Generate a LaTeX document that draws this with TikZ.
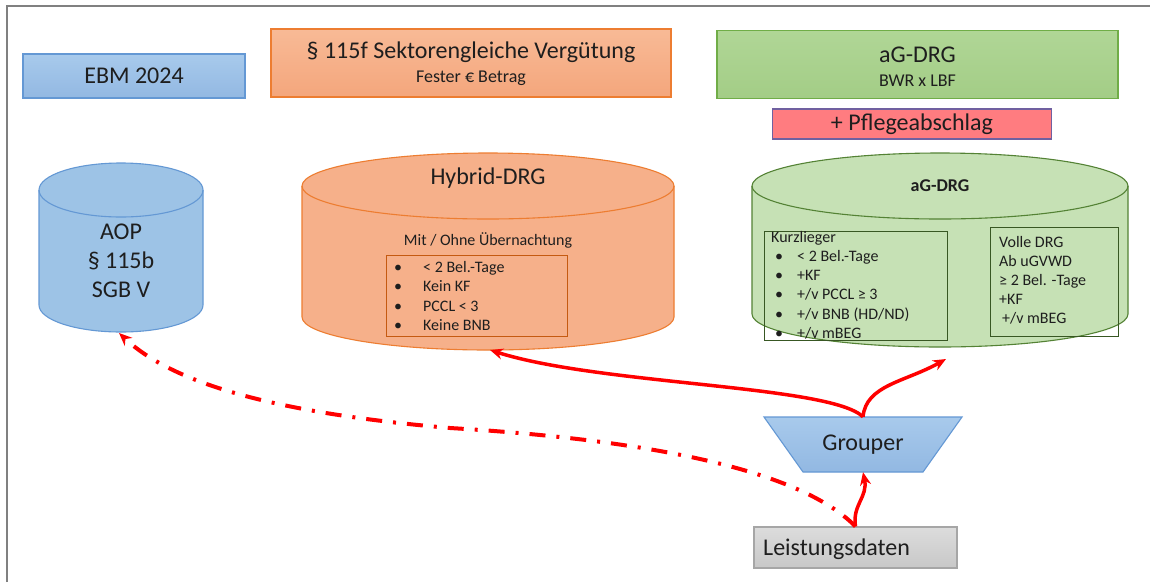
\documentclass[tikz,border=0pt]{standalone}
\usepackage{fontspec}
\setmainfont{Carlito}
\usetikzlibrary{arrows.meta,shapes.geometric}
\definecolor{txt}{RGB}{30,30,30}
\definecolor{framec}{RGB}{128,128,128}
\definecolor{bluefill}{RGB}{157,195,230}
\definecolor{bluetop}{RGB}{168,202,236}
\definecolor{bluebot}{RGB}{146,184,226}
\definecolor{blueline}{RGB}{100,152,212}
\definecolor{orfill}{RGB}{246,176,138}
\definecolor{ortop}{RGB}{248,186,150}
\definecolor{orbot}{RGB}{244,166,124}
\definecolor{orline}{RGB}{237,125,49}
\definecolor{orinner}{RGB}{197,90,17}
\definecolor{gtop}{RGB}{176,214,150}
\definecolor{gbot}{RGB}{163,205,134}
\definecolor{gboxline}{RGB}{112,173,71}
\definecolor{gcyl}{RGB}{198,225,181}
\definecolor{gcylline}{RGB}{84,130,53}
\definecolor{ginner}{RGB}{56,87,35}
\definecolor{pflfill}{RGB}{255,124,128}
\definecolor{pflline}{RGB}{112,96,160}
\definecolor{grtop}{RGB}{220,220,220}
\definecolor{grbot}{RGB}{200,200,200}
\definecolor{grline}{RGB}{166,166,166}
\definecolor{arrred}{RGB}{255,0,0}
\newcommand{\fs}[2]{\fontsize{#1}{#2}\selectfont}
\newcommand{\bulA}[1]{\makebox[29pt][l]{•}#1}
\newcommand{\bulB}[1]{\makebox[26pt][l]{\hspace{4pt}•}#1}
% cx, rx, top centre y, bottom centre y, ry, fill, line
\newcommand{\mycyl}[7]{%
  \fill[#6] (#1-#2,#3) -- (#1-#2,#4) arc[start angle=180,end angle=0,x radius=#2,y radius=#5]
     -- (#1+#2,#3) arc[start angle=0,end angle=-180,x radius=#2,y radius=#5] -- cycle;
  \draw[#7,line width=1.1pt] (#1-#2,#3) -- (#1-#2,#4) arc[start angle=180,end angle=0,x radius=#2,y radius=#5] -- (#1+#2,#3);
  \draw[#7,line width=1.1pt] (#1,#3) ellipse[x radius=#2,y radius=#5];
}
\begin{document}
\begin{tikzpicture}[x=1pt,y=-1pt,
  box/.style={draw,line width=1.1pt,inner sep=0pt,text=txt},
  lbl/.style={inner sep=0pt,text=txt},
  redarrow/.style={draw=arrred,line width=3.5pt,-{Stealth[length=13pt,width=11pt]}},
  dashdotarrow/.style={draw=arrred,line width=4pt,dash pattern=on 16pt off 11pt on 3pt off 11pt,-{Stealth[length=13pt,width=11pt]}}
]
\useasboundingbox (0,0) rectangle (1150,582);
\fill[white] (0,0) rectangle (1150,582);
\draw[framec,line width=1.5pt] (7,582) -- (7,6) -- (1150,6);

% top boxes
\node[box,draw=blueline,top color=bluetop,bottom color=bluebot,minimum width=222pt,minimum height=44pt,font=\fs{24}{28}] (ebm) at (134,76) {EBM 2024};
\node[box,draw=orline,top color=ortop,bottom color=orbot,minimum width=400pt,minimum height=68pt] (sek) at (471,63) {};
\node[lbl,font=\fs{24}{28}] (sekt) at (471,52) {§ 115f Sektorengleiche Vergütung};
\node[lbl,font=\fs{18}{21}] (seks) at (471,78) {Fester € Betrag};
\node[box,draw=gboxline,top color=gtop,bottom color=gbot,minimum width=401pt,minimum height=68pt] (agd) at (917.5,64.5) {};
\node[lbl,font=\fs{24}{28}] (agdt) at (917.5,55) {aG-DRG};
\node[lbl,font=\fs{18}{21}] (agds) at (917.5,81) {BWR x LBF};
\node[box,draw=pflline,fill=pflfill,minimum width=279pt,minimum height=30pt,font=\fs{24}{28}] (pfl) at (912,124) {+ Pflegeabschlag};

% cylinders
\mycyl{121}{82}{190}{305}{27}{bluefill}{blueline}
\node[lbl,align=center,font=\fs{24}{29}] (aop) at (121,261) {AOP\\§ 115b\\SGB V};
\coordinate (aopbot) at (119,333);

\mycyl{488}{186}{186}{317}{33}{orfill}{orline}
\node[lbl,font=\fs{24}{28}] (hyb) at (488,178) {Hybrid-DRG};
\node[lbl,font=\fs{16}{19}] (hybs) at (488,240) {Mit / Ohne Übernachtung};
\node[box,draw=orinner,line width=0.9pt,minimum width=181pt,minimum height=81pt,anchor=north west] (hybl) at (386,255) {};
\node[lbl,align=left,anchor=west,font=\fs{16}{19.3}] (hyblt) at (394,296) {\bulA{< 2 Bel.-Tage}\\\bulA{Kein KF}\\\bulA{PCCL < 3}\\\bulA{Keine BNB}};
\coordinate (hybbot) at (490,350);

\mycyl{940}{188}{186}{314}{33}{gcyl}{gcylline}
\node[lbl,font=\bfseries\fs{18}{21}] (agc) at (940,186) {aG-DRG};
\node[box,draw=ginner,line width=0.9pt,minimum width=183pt,minimum height=109pt,anchor=north west] (kurz) at (764,231) {};
\node[lbl,align=left,anchor=west,font=\fs{16}{19.2}] (kurzt) at (771,285) {Kurzlieger\\\bulB{< 2 Bel.-Tage}\\\bulB{+KF}\\\bulB{+/v PCCL ≥ 3}\\\bulB{+/v BNB (HD/ND)}\\\bulB{+/v mBEG}};
\node[box,draw=ginner,line width=0.9pt,minimum width=128pt,minimum height=109pt,anchor=north west] (voll) at (990,227) {};
\node[lbl,align=left,anchor=west,font=\fs{16}{19}] (vollt) at (999,280) {Volle DRG\\Ab uGVWD\\≥ 2 Bel. -Tage\\+KF\\\hspace{3pt}+/v mBEG};
\coordinate (agbot) at (946,359);

% grouper and data
\shade[top color=bluetop,bottom color=bluebot,draw=blueline,line width=1.1pt] (764,417) -- (962,417) -- (923,472) -- (803,472) -- cycle;
\node[lbl,minimum width=120pt,minimum height=55pt,font=\fs{24}{28}] (grp) at (863,444.5) {Grouper};
\node[box,draw=grline,top color=grtop,bottom color=grbot,minimum width=203pt,minimum height=41pt] (ld) at (855.5,547.5) {};
\node[lbl,anchor=west,font=\fs{24}{28}] (ldt) at (763,549) {Leistungsdaten};

% connectors
\draw[redarrow] (grp.north) .. controls (830,385) and (600,385) .. (hybbot);
\draw[redarrow] (grp.north) .. controls (866,385) and (905,382) .. (agbot);
\draw[redarrow] (ld.north) .. controls (852,505) and (868,497) .. (grp.south);
\draw[dashdotarrow] (ld.north) .. controls (800,470) and (650,440) .. (450,428) .. controls (300,415) and (180,390) .. (aopbot);
\end{tikzpicture}
\end{document}
